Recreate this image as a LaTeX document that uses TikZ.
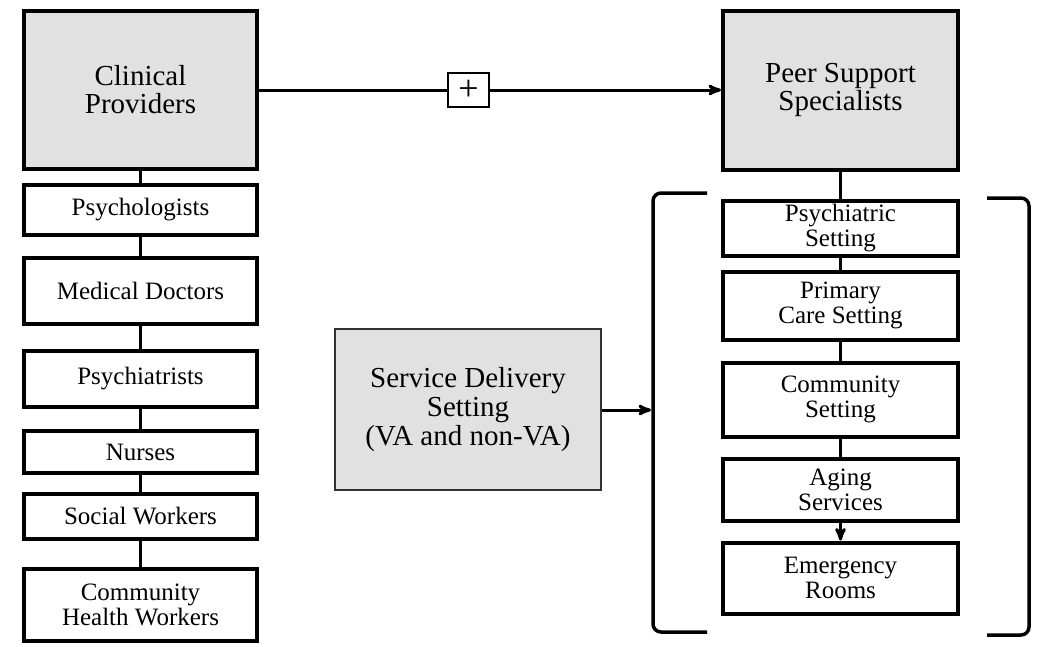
\documentclass[tikz,border=0pt]{standalone}
\usepackage{fontspec}
\setmainfont{Liberation Serif}
\usetikzlibrary{arrows}
\usetikzlibrary{positioning}
\definecolor{boxgray}{HTML}{E1E1E1}
\tikzset{
  every node/.style={inner sep=0, align=center},
  group/.style={draw, line width=4pt, fill=boxgray,
    font=\fontsize{29}{28}\selectfont},
  member/.style={draw, line width=4pt, fill=white,
    font=\fontsize{25}{25}\selectfont},
  link/.style={line width=3pt},
  arrow/.style={->,>=stealth', line width=3pt},
  bracket/.style={line width=3.5pt, rounded corners=8pt}
}

\begin{document}
\begin{tikzpicture}[x=1pt, y=-1pt]
  \useasboundingbox (0,0) rectangle (1041,646);

  % clinical side
  \node[group, minimum width=233pt, minimum height=158pt] (clinical) at (140.5,90) {Clinical\\Providers};
  \begin{scope}[member/.append style={minimum width=233pt}]
    \node[member, minimum height=50pt, below=12pt of clinical] (psychologists) {Psychologists};
    \node[member, minimum height=66pt, below=19pt of psychologists] (doctors) {Medical Doctors};
    \node[member, minimum height=56pt, below=23pt of doctors] (psychiatrists) {Psychiatrists};
    \node[member, minimum height=42pt, below=20pt of psychiatrists] (nurses) {Nurses};
    \node[member, minimum height=45pt, below=17pt of nurses] (social) {Social Workers};
    \node[member, minimum height=72pt, below=26pt of social] (chw) {Community\\Health Workers};
  \end{scope}

  % peer side
  \node[group, minimum width=235pt, minimum height=159pt] (peer) at (840.5,90) {Peer Support\\Specialists};
  \begin{scope}[member/.append style={minimum width=235pt}]
    \node[member, minimum height=55pt, below=27pt of peer] (psychiatric) {Psychiatric\\Setting};
    \node[member, minimum height=68pt, below=12pt of psychiatric] (primary) {Primary\\Care Setting};
    \node[member, minimum height=74pt, below=19pt of primary] (community) {Community\\Setting};
    \node[member, minimum height=62pt, below=18pt of community] (aging) {Aging\\Services};
    \node[member, minimum height=71pt, below=18pt of aging] (emergency) {Emergency\\Rooms};
  \end{scope}

  \node[draw, line width=1.5pt, fill=white, minimum width=41pt, minimum height=34pt,
    font=\fontsize{36}{36}\selectfont] (plus) at (468.5,90) {+};

  \node[draw=black!80, line width=2pt, fill=boxgray, minimum width=266pt, minimum height=161pt,
    font=\fontsize{29}{29}\selectfont] (service) at (468,409.5) {Service Delivery\\Setting\\(VA and non-VA)};

  % brackets round the settings
  \draw[bracket] (707,193) -- (653,193) -- (653,632) -- (707,632);
  \draw[bracket] (987,198) -- (1029,198) -- (1029,635) -- (987,635);
  \coordinate (lbrack) at (651,410);

  \foreach \a/\b in {clinical/psychologists, psychologists/doctors, doctors/psychiatrists,
    psychiatrists/nurses, nurses/social, social/chw,
    peer/psychiatric, psychiatric/primary, primary/community, community/aging}
    \draw[link] (\a) -- (\b);

  \draw[link] (clinical) -- (plus);
  \draw[arrow] (plus) -- (peer);
  \draw[arrow] (aging) -- (emergency);
  \draw[arrow] (service.east |- lbrack) -- (lbrack);
\end{tikzpicture}
\end{document}
